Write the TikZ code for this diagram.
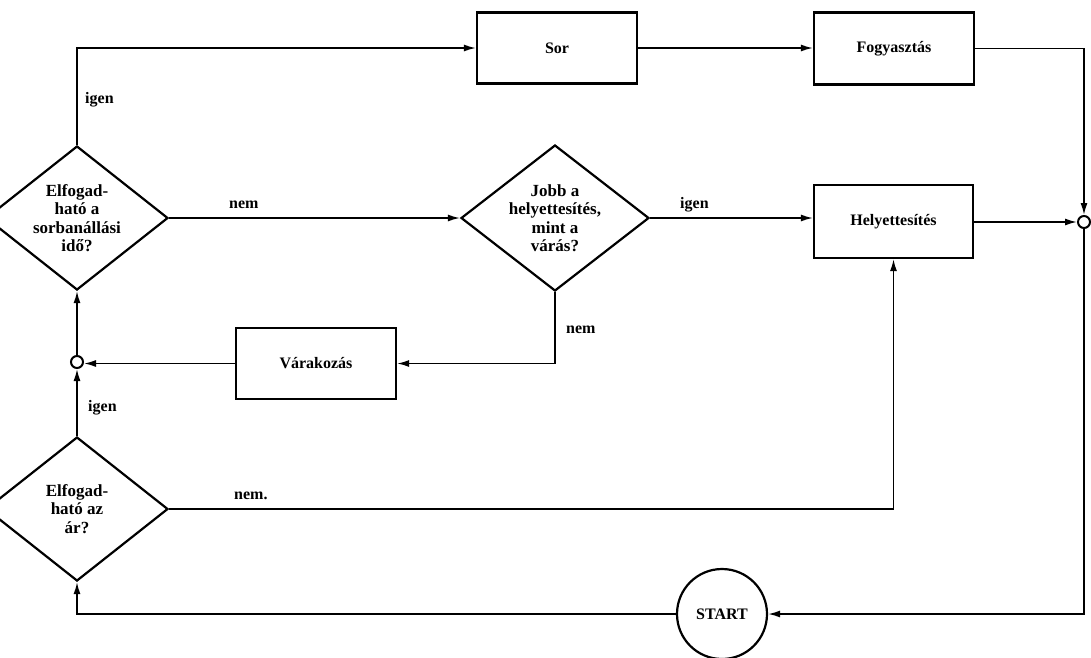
\documentclass[tikz,border=0pt]{standalone}
\usepackage{fontspec}
\setmainfont{Liberation Serif}
\usetikzlibrary{shapes.geometric,arrows.meta}
\begin{document}
\begin{tikzpicture}[x=1pt,y=-1pt,
  every node/.style={font=\fontsize{16}{18}\selectfont\bfseries},
  box/.style={draw,line width=2.2pt,rectangle,minimum width=160pt,minimum height=71pt,inner sep=0pt},
  decision/.style={draw,line width=2.2pt,diamond,shape aspect=1.25,inner xsep=-8pt,inner ysep=-4pt,align=center,font=\fontsize{17}{18.5}\selectfont\bfseries},
  junction/.style={draw,line width=2pt,circle,minimum size=12pt,inner sep=0pt,fill=white},
  startnode/.style={draw,line width=2.2pt,circle,minimum size=90pt,inner sep=0pt},
  arr/.style={line width=1.6pt,-{Latex[length=12pt,width=7pt]}},
  lbl/.style={anchor=west,inner sep=0pt}]
\fill[white] (0,0) rectangle (1091,657);
\useasboundingbox (0,0) rectangle (1091,657);
% nodes
\node[box] (sor) at (557,48) {Sor};
\node[box,minimum height=72pt] (fog) at (894,48.5) {Fogyasztás};
\node[box,minimum width=159pt,minimum height=73pt] (hely) at (893.5,221.5) {Helyettesítés};
\node[box] (var) at (316,363.5) {Várakozás};
\node[decision,minimum width=182pt,minimum height=144pt] (d1) at (77,218) {Elfogad-\\ható a\\sorbanállási\\idő?};
\node[decision,minimum width=182pt,minimum height=144pt] (d2) at (77,509) {Elfogad-\\ható az\\ár?};
\node[decision,minimum width=188pt,minimum height=146pt] (jobb) at (555,218) {Jobb a\\helyettesítés,\\mint a\\várás?};
\node[junction] (c) at (77,362) {};
\node[junction] (J) at (1084,222) {};
\node[startnode] (start) at (722,614) {START};
% connectors
\draw[arr] (d1.north) |- (sor.west);
\draw[arr] (sor.east) -- (sor.east -| fog.west);
\draw[arr] (fog.east) -| (J.north);
\draw[arr] (hely.east |- J.west) -- (J.west);
\draw[arr] (J.south) |- (start.east);
\draw[arr] (start.west) -| (d2.south);
\draw[arr] (d2.north) -- (c.south);
\draw[arr] (c.north) -- (d1.south);
\draw[arr] (d1.east) -- (jobb.west);
\draw[arr] (jobb.east) -- (jobb.east -| hely.west);
\draw[arr] (jobb.south) |- (var.east);
\draw[arr] (var.west) -- (var.west -| c.east);
\draw[arr] (d2.east) -| (hely.south);
% labels
\node[lbl] (l1) at (85,100) {igen};
\node[lbl] (l2) at (229,205) {nem};
\node[lbl] (l3) at (680,205) {igen};
\node[lbl] (l4) at (566,330) {nem};
\node[lbl] (l5) at (88,408) {igen};
\node[lbl] (l6) at (234,496) {nem.};
\end{tikzpicture}
\end{document}
